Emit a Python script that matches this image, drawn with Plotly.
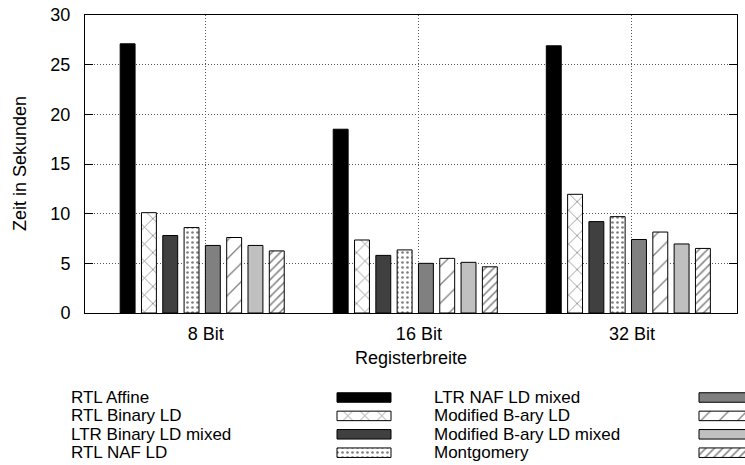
import plotly.graph_objects as go

categories = ["8 Bit", "16 Bit", "32 Bit"]
series_names = [
    "RTL Affine", "RTL Binary LD", "LTR Binary LD mixed", "RTL NAF LD",
    "LTR NAF LD mixed", "Modified B-ary LD", "Modified B-ary LD mixed", "Montgomery",
]
rtl_affine = [27.1, 18.5, 26.9]
rtl_binary_ld = [10.1, 7.35, 11.95]
ltr_binary_ld_mixed = [7.8, 5.8, 9.2]
rtl_naf_ld = [8.6, 6.35, 9.7]
ltr_naf_ld_mixed = [6.8, 5.0, 7.4]
modified_bary_ld = [7.6, 5.5, 8.15]
modified_bary_ld_mixed = [6.8, 5.1, 6.95]
montgomery = [6.25, 4.65, 6.5]
values = [rtl_affine, rtl_binary_ld, ltr_binary_ld_mixed, rtl_naf_ld,
          ltr_naf_ld_mixed, modified_bary_ld, modified_bary_ld_mixed, montgomery]
y_ticks = [0, 5, 10, 15, 20, 25, 30]

styles = [
    dict(color="black"),
    dict(color="white", pattern=dict(shape="x", size=12, solidity=0.12, fgcolor="black", bgcolor="white")),
    dict(color="#404040"),
    dict(color="white", pattern=dict(shape=".", size=5, solidity=0.22, fgcolor="black", bgcolor="white")),
    dict(color="#808080"),
    dict(color="white", pattern=dict(shape="/", size=13, solidity=0.1, fgcolor="black", bgcolor="white")),
    dict(color="#c0c0c0"),
    dict(color="white", pattern=dict(shape="/", size=6, solidity=0.25, fgcolor="black", bgcolor="white")),
]

FONT = "Liberation Sans, Arial, sans-serif"
FS = 18
FS_LEG = 17
W, H = 745, 465
n = len(series_names)
gap = 2
cluster = n + gap
bar_w = 0.7
fig = go.Figure()

for j, name in enumerate(series_names):
    st = styles[j]
    marker = dict(color=st["color"], line=dict(color="black", width=1))
    if "pattern" in st:
        marker["pattern"] = st["pattern"]
    fig.add_trace(go.Bar(
        x=[i * cluster + j for i in range(len(categories))],
        y=values[j], width=bar_w, marker=marker, name=name,
        showlegend=False, xaxis="x", yaxis="y",
    ))

# custom legend: text on the left, key on the right (gnuplot style)
col_text_x = [69, 432]
col_key_x = [337, 699]
key_len = 54
row_y0, row_dy = 397.5, 18.4
annotations = []
for j, name in enumerate(series_names):
    col, row = divmod(j, 4)
    yy = row_y0 + row * row_dy
    st = styles[j]
    marker = dict(color=st["color"], line=dict(color="black", width=1))
    if "pattern" in st:
        marker["pattern"] = dict(st["pattern"])
    fig.add_trace(go.Bar(
        y=[yy], x=[key_len], base=[col_key_x[col]], orientation="h", width=9.5,
        marker=marker, showlegend=False, xaxis="x2", yaxis="y2", hoverinfo="skip",
    ))
    annotations.append(dict(
        x=col_text_x[col], y=yy, xref="x2", yref="y2", text=name, showarrow=False,
        xanchor="left", yanchor="middle", font=dict(family=FONT, size=FS_LEG, color="black"),
    ))

L, R, T, B = 85, 737, 15, 313
annotations.append(dict(x=(L + R) / 2, y=358, xref="x2", yref="y2", text="Registerbreite",
                        showarrow=False, xanchor="center", yanchor="middle",
                        font=dict(family=FONT, size=FS, color="black")))
annotations.append(dict(x=20, y=(T + B) / 2, xref="x2", yref="y2", text="Zeit in Sekunden",
                        showarrow=False, textangle=-90, xanchor="center", yanchor="middle",
                        font=dict(family=FONT, size=FS, color="black")))

tick_offset = 3.67
fig.update_layout(
    width=W, height=H, margin=dict(l=0, r=0, t=0, b=0),
    paper_bgcolor="white", plot_bgcolor="rgba(0,0,0,0)",
    barmode="overlay", showlegend=False,
    font=dict(family=FONT, size=FS, color="black"),
    xaxis=dict(
        domain=[L / W, R / W], range=[-2.0, 28.6],
        tickvals=[i * cluster + tick_offset for i in range(len(categories))],
        ticktext=categories, ticks="", showline=True, linecolor="black", linewidth=1,
        mirror=True, showgrid=True, gridcolor="#555555", griddash="1px,2px", gridwidth=1,
        zeroline=False, ticklabelstandoff=4, automargin=False, fixedrange=True,
    ),
    yaxis=dict(
        domain=[1 - B / H, 1 - T / H], range=[0, 30], tickvals=y_ticks,
        ticks="inside", ticklen=8, tickcolor="black", showline=True, linecolor="black",
        linewidth=1, mirror="ticks", showgrid=True, gridcolor="#555555", griddash="1px,2px",
        gridwidth=1, zeroline=False, ticklabelstandoff=10, automargin=False,
    ),
    xaxis2=dict(domain=[0, 1], range=[0, W], visible=False, anchor="y2"),
    yaxis2=dict(domain=[0, 1], range=[H, 0], visible=False, anchor="x2"),
    annotations=annotations,
)

fig.write_html("out.html")
